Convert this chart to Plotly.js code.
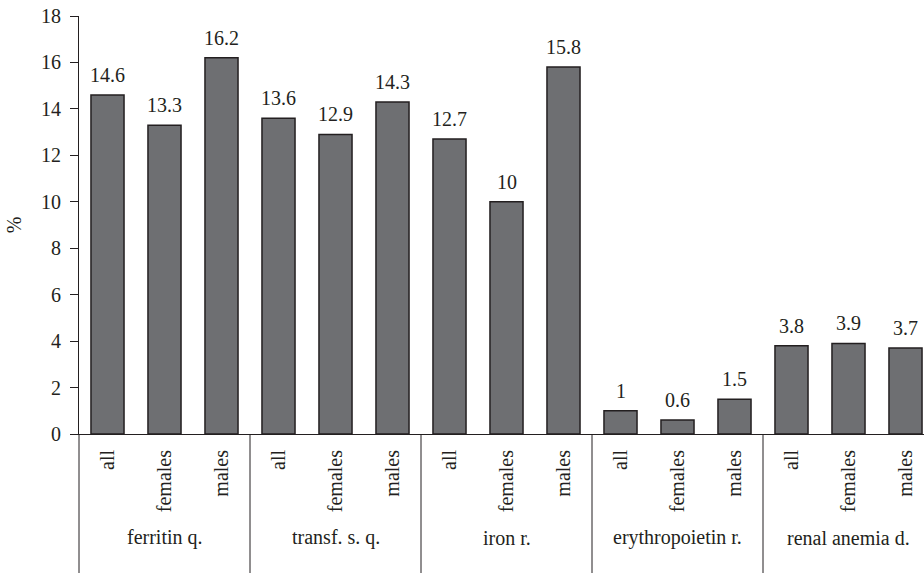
<!DOCTYPE html>
<html>
<head>
<meta charset="utf-8">
<script src="https://cdn.plot.ly/plotly-3.0.1.min.js"></script>
<style>html,body{margin:0;padding:0;background:#fff;}#chart{width:924px;height:573px;}</style>
</head>
<body>
<div id="chart"></div>
<script>
const groups = ['ferritin q.', 'transf. s. q.', 'iron r.', 'erythropoietin r.', 'renal anemia d.'];
const subgroups = ['all', 'females', 'males'];
const values = [14.6, 13.3, 16.2, 13.6, 12.9, 14.3, 12.7, 10, 15.8, 1, 0.6, 1.5, 3.8, 3.9, 3.7];
const yTicks = [0, 2, 4, 6, 8, 10, 12, 14, 16, 18];

const FONT = 'Liberation Serif, Times New Roman, serif';
const FS = 20;
const INK = '#231f20';

const xs = values.map((v, i) => i);
const tickText = values.map((v, i) => subgroups[i % subgroups.length]);
const xRange = [-0.5, -0.5 + 845 / 57];

const trace = {
  type: 'bar',
  x: xs,
  y: values,
  width: 0.58,
  marker: { color: '#6e6f72', line: { color: INK, width: 1.5 } },
  hoverinfo: 'x+y'
};

const annotations = [];
values.forEach((v, i) => {
  annotations.push({
    x: i, y: v, xref: 'x', yref: 'y',
    text: String(v), showarrow: false,
    yanchor: 'bottom', yshift: 7,
    font: { family: FONT, size: FS, color: INK }
  });
});
const toPaperX = (x) => (x - xRange[0]) / (xRange[1] - xRange[0]);
const shapes = [];
groups.forEach((g, gi) => {
  const center = gi * subgroups.length + (subgroups.length - 1) / 2;
  annotations.push({
    x: center, y: -0.248, xref: 'x', yref: 'paper',
    text: g, showarrow: false, yanchor: 'middle', xanchor: 'center',
    font: { family: FONT, size: FS, color: INK }
  });
  const b = gi * subgroups.length - 0.5;
  const px = toPaperX(b);
  shapes.push({
    type: 'line', xref: 'paper', yref: 'paper',
    x0: px, x1: px, y0: 0, y1: -0.4,
    line: { color: INK, width: 1 }
  });
});

const layout = {
  width: 924, height: 573,
  margin: { l: 79, r: 0, t: 16, b: 139 },
  paper_bgcolor: '#fff', plot_bgcolor: '#fff',
  showlegend: false,
  font: { family: FONT, size: FS, color: INK },
  xaxis: {
    range: xRange,
    tickmode: 'array', tickvals: xs, ticktext: tickText,
    tickangle: -90, ticks: '', showgrid: false, zeroline: false,
    showline: true, linecolor: INK, linewidth: 1,
    ticklabelstandoff: 7,
    tickfont: { family: FONT, size: FS, color: INK },
    fixedrange: true
  },
  yaxis: {
    range: [0, 18],
    tickmode: 'array', tickvals: yTicks,
    ticks: 'outside', ticklen: 8, tickcolor: INK, tickwidth: 1,
    showline: true, linecolor: INK, linewidth: 1,
    showgrid: false, zeroline: false,
    ticklabelstandoff: 5,
    tickfont: { family: FONT, size: FS, color: INK },
    title: { text: '%', font: { family: FONT, size: FS, color: INK }, standoff: 14 },
    fixedrange: true
  },
  annotations: annotations,
  shapes: shapes
};

Plotly.newPlot('chart', [trace], layout, { displayModeBar: false, staticPlot: true });
</script>
</body>
</html>
